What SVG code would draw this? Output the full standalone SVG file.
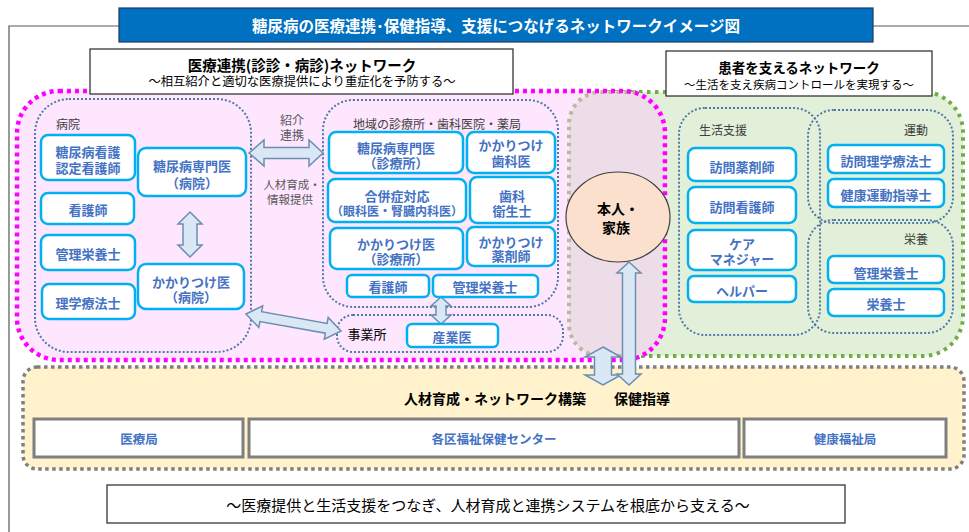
<svg xmlns="http://www.w3.org/2000/svg" width="969" height="532" viewBox="0 0 969 532">
<defs>
<style>
text{font-family:"Noto Sans CJK JP","Noto Sans",sans-serif;text-anchor:middle;dominant-baseline:central}
.node rect{fill:#fff;stroke:#00B0F0;stroke-width:2.5}
.node text{fill:#4472C4;font-size:13px;font-weight:bold}
.grp{fill:none;stroke:#4F7AA6;stroke-width:2;stroke-dasharray:2 2}
.glabel{fill:#404040;font-size:12px}
.arrow{fill:#DAE8F5;stroke:#6C8EB0;stroke-width:1.5;stroke-linejoin:miter}
.gbox rect{fill:#fff;stroke:#7F7F7F;stroke-width:3}
.gbox text{fill:#4472C4;font-size:12.5px;font-weight:bold}
.hdr rect{fill:#fff;stroke:#262626;stroke-width:1.2}
</style>
</defs>
<rect width="969" height="532" fill="#fff"/>
<path d="M969,26 H9 V532" fill="none" stroke="#595959" stroke-width="1.2"/>

<!-- regions -->
<rect x="567" y="92" width="396" height="264" rx="40" fill="#E2F0D9" stroke="#70AD47" stroke-width="4" stroke-dasharray="3.5 4.5"/>
<rect x="17" y="91" width="648" height="269" rx="42" fill="#FFE6FF"/>
<rect x="569" y="92" width="96" height="264" rx="32" fill="#EDDDE8"/>
<path d="M636,92 H601 A32,32 0 0 0 569,124 V324 A32,32 0 0 0 601,356 H636" fill="none" stroke="#B9BA98" stroke-width="4" stroke-dasharray="3.5 4.5"/>
<rect x="17" y="91" width="648" height="269" rx="42" fill="none" stroke="#FF00FF" stroke-width="4.5" stroke-dasharray="4 4"/>
<rect x="23" y="367" width="941" height="102" rx="14" fill="#FFF2CC" stroke="#7F7F7F" stroke-width="3.5" stroke-dasharray="3.5 3.5"/>

<!-- title -->
<g id="title">
<rect x="119" y="8" width="754" height="34" fill="#0070C0" stroke="#1F3864" stroke-width="1.2"/>
<text x="496" y="25" fill="#fff" font-size="15.5" font-weight="bold">糖尿病の医療連携･保健指導、支援につなげるネットワークイメージ図</text>
</g>

<!-- headers -->
<g id="hdr-medical" class="hdr">
<rect x="90" y="49" width="423" height="45"/>
<text x="302" y="64" font-size="14.5" font-weight="bold" fill="#000">医療連携(診診・病診)ネットワーク</text>
<text x="302" y="81" font-size="12.3" fill="#000">～相互紹介と適切な医療提供により重症化を予防する～</text>
</g>
<g id="hdr-patient" class="hdr">
<rect x="666" y="51" width="266" height="45"/>
<text x="799" y="67" font-size="13.5" font-weight="bold" fill="#000">患者を支えるネットワーク</text>
<text x="799" y="84" font-size="11.5" fill="#000">～生活を支え疾病コントロールを実現する～</text>
</g>

<!-- groups -->
<g id="grp-hospital">
<rect class="grp" x="35" y="99" width="216" height="253" rx="34"/>
<text class="glabel" x="68" y="123">病院</text>
</g>
<g id="grp-clinic">
<rect class="grp" x="323" y="100" width="235" height="207" rx="30"/>
<text class="glabel" x="437" y="123">地域の診療所・歯科医院・薬局</text>
</g>
<g id="grp-office">
<rect class="grp" x="337" y="315" width="226" height="37" rx="16"/>
<text x="367" y="333" font-size="13" fill="#000">事業所</text>
</g>
<g id="grp-life">
<rect class="grp" x="679" y="108" width="141" height="227" rx="26"/>
<text class="glabel" x="723" y="129">生活支援</text>
</g>
<g id="grp-exercise">
<rect class="grp" x="808" y="110" width="145" height="113" rx="26"/>
<text class="glabel" x="916" y="129">運動</text>
</g>
<g id="grp-nutrition">
<rect class="grp" x="808" y="220" width="145" height="113" rx="26"/>
<text class="glabel" x="916" y="238">栄養</text>
</g>

<!-- connectors -->
<g id="connectors">
<polygon class="arrow" points="249,153 264,140 264,147.5 309,147.5 309,140 323,153 309,166 309,158.5 264,158.5 264,166"/>
<polygon class="arrow" points="190,212 202,224 197,224 197,245 202,245 190,257 178,245 183,245 183,224 178,224"/>
<polygon class="arrow" points="441,297 451,306 446,306 446,315 451,315 441,324 431,315 436,315 436,306 431,306"/>
<polygon class="arrow" transform="translate(246,314) rotate(10.1)" points="0,0 15,-11 15,-5 81.5,-5 81.5,-11 96.5,0 81.5,11 81.5,5 15,5 15,11"/>
<polygon class="arrow" points="603,347 621,357 611.5,357 611.5,375 621,375 603,385 585,375 594.5,375 594.5,357 585,357"/>
<polygon class="arrow" points="629,262 641,273 635.5,273 635.5,374 641,374 629,385 617,374 622.5,374 622.5,273 617,273"/>
<text font-size="12" fill="#595959"><tspan x="292" y="119">紹介</tspan><tspan x="292" y="134">連携</tspan></text>
<text font-size="11.5" fill="#595959"><tspan x="292" y="184">人材育成・</tspan><tspan x="290" y="199">情報提供</tspan></text>
</g>

<!-- hospital nodes -->
<g id="n-cde" class="node"><rect x="41" y="135" width="94" height="45" rx="7"/><text><tspan x="88" y="151">糖尿病看護</tspan><tspan x="88" y="167">認定看護師</tspan></text></g>
<g id="n-nurse-h" class="node"><rect x="41" y="193" width="93" height="31" rx="7"/><text x="88" y="209">看護師</text></g>
<g id="n-diet-h" class="node"><rect x="41" y="235" width="94" height="35" rx="7"/><text x="88" y="253">管理栄養士</text></g>
<g id="n-pt-h" class="node"><rect x="42" y="284" width="93" height="35" rx="7"/><text x="88" y="302">理学療法士</text></g>
<g id="n-spec-h" class="node"><rect x="138" y="148" width="108" height="48" rx="8"/><text><tspan x="192" y="165">糖尿病専門医</tspan><tspan x="192" y="182">（病院）</tspan></text></g>
<g id="n-gp-h" class="node"><rect x="138" y="264" width="106" height="45" rx="8"/><text><tspan x="191" y="281">かかりつけ医</tspan><tspan x="191" y="296">（病院）</tspan></text></g>

<!-- clinic nodes -->
<g id="n-spec-c" class="node"><rect x="329" y="132" width="134" height="41" rx="7"/><text><tspan x="396" y="147">糖尿病専門医</tspan><tspan x="396" y="162">（診療所）</tspan></text></g>
<g id="n-dentist" class="node"><rect x="467" y="132" width="88" height="41" rx="7"/><text><tspan x="511" y="144">かかりつけ</tspan><tspan x="511" y="160">歯科医</tspan></text></g>
<g id="n-comp" class="node"><rect x="328" y="179" width="138" height="43" rx="7"/><text><tspan x="397" y="195">合併症対応</tspan><tspan x="397" y="210" font-size="12">（眼科医・腎臓内科医）</tspan></text></g>
<g id="n-hyg" class="node"><rect x="470" y="177" width="85" height="46" rx="7"/><text><tspan x="512" y="195">歯科</tspan><tspan x="512" y="210">衛生士</tspan></text></g>
<g id="n-gp-c" class="node"><rect x="330" y="228" width="133" height="41" rx="7"/><text><tspan x="396" y="243">かかりつけ医</tspan><tspan x="396" y="258">（診療所）</tspan></text></g>
<g id="n-pharm" class="node"><rect x="467" y="227" width="88" height="39" rx="7"/><text><tspan x="511" y="241">かかりつけ</tspan><tspan x="511" y="255">薬剤師</tspan></text></g>
<g id="n-nurse-c" class="node"><rect x="347" y="275" width="82" height="22" rx="5"/><text x="388" y="286">看護師</text></g>
<g id="n-diet-c" class="node"><rect x="433" y="275" width="105" height="22" rx="5"/><text x="485" y="286">管理栄養士</text></g>
<g id="n-occ" class="node"><rect x="407" y="324" width="91" height="23" rx="5"/><text x="452" y="336">産業医</text></g>

<!-- patient -->
<g id="n-patient">
<ellipse cx="618" cy="217" rx="52" ry="45" fill="#FBE0CD" stroke="#404040" stroke-width="1.2"/>
<text font-size="14" font-weight="bold" fill="#000"><tspan x="618" y="208">本人・</tspan><tspan x="616" y="227">家族</tspan></text>
</g>

<!-- support nodes -->
<g id="n-vpharm" class="node"><rect x="688" y="148" width="108" height="33" rx="7"/><text x="742" y="166">訪問薬剤師</text></g>
<g id="n-vnurse" class="node"><rect x="688" y="187" width="108" height="36" rx="7"/><text x="742" y="206">訪問看護師</text></g>
<g id="n-care" class="node"><rect x="688" y="230" width="108" height="40" rx="7"/><text><tspan x="742" y="243">ケア</tspan><tspan x="742" y="258">マネジャー</tspan></text></g>
<g id="n-helper" class="node"><rect x="688" y="276" width="108" height="26" rx="6"/><text x="742" y="290">ヘルパー</text></g>
<g id="n-vpt" class="node"><rect x="828" y="145" width="116" height="28" rx="6"/><text x="886" y="160">訪問理学療法士</text></g>
<g id="n-exer" class="node"><rect x="828" y="179" width="116" height="28" rx="6"/><text x="886" y="194">健康運動指導士</text></g>
<g id="n-diet-s" class="node"><rect x="828" y="256" width="116" height="27" rx="6"/><text x="886" y="272">管理栄養士</text></g>
<g id="n-nutr" class="node"><rect x="828" y="289" width="116" height="27" rx="6"/><text x="886" y="303">栄養士</text></g>

<!-- bottom -->
<g id="base-label">
<text x="495" y="398" font-size="14" font-weight="bold" fill="#000">人材育成・ネットワーク構築</text>
<text x="642" y="398" font-size="14" font-weight="bold" fill="#000">保健指導</text>
</g>
<g id="n-medbureau" class="gbox"><rect x="34" y="419" width="209" height="38"/><text x="139" y="438">医療局</text></g>
<g id="n-center" class="gbox"><rect x="249" y="419" width="490" height="38"/><text x="494" y="438">各区福祉保健センター</text></g>
<g id="n-welfare" class="gbox"><rect x="744" y="419" width="202" height="38"/><text x="845" y="438">健康福祉局</text></g>

<g id="footer">
<rect x="107" y="485" width="738" height="38" fill="#fff" stroke="#262626" stroke-width="1.2"/>
<text x="488" y="504" font-size="15" fill="#000">～医療提供と生活支援をつなぎ、人材育成と連携システムを根底から支える～</text>
</g>
</svg>
